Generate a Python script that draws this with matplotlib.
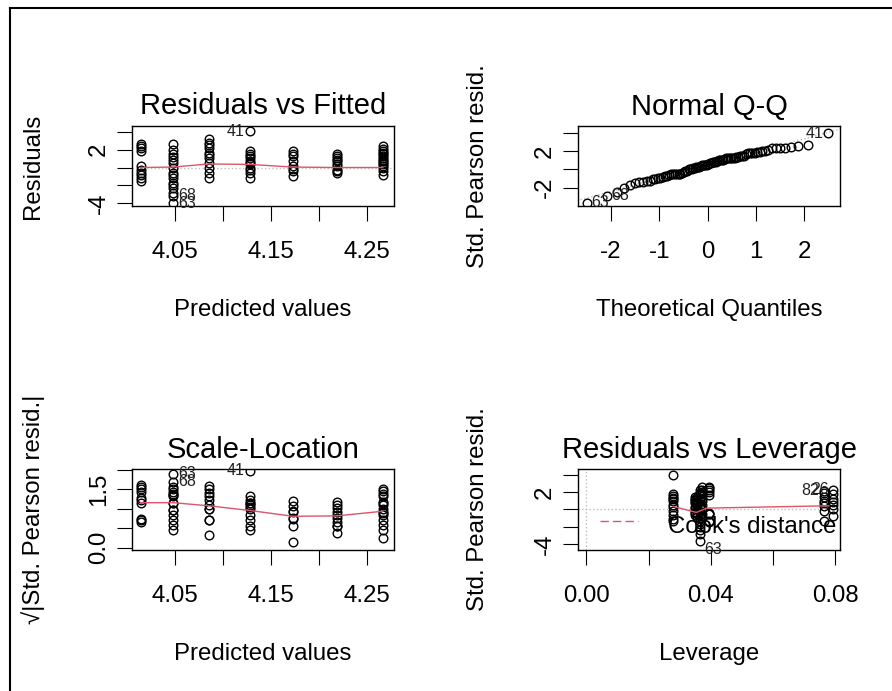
import matplotlib
matplotlib.use('Agg')
import matplotlib.pyplot as plt
import numpy as np
from statistics import NormalDist
from matplotlib.lines import Line2D

plt.rcParams['font.family'] = ['Liberation Sans', 'DejaVu Sans']

W, H = 892, 691

# ---------------- data ----------------
fitted = [4.014, 4.048, 4.085, 4.128, 4.173, 4.219, 4.267]
leverage_g1_g6 = [0.0395, 0.0365, 0.0372, 0.0279, 0.0355, 0.0348]
leverage_g7 = [0.0795, 0.0765, 0.0765, 0.0795, 0.0765, 0.0795, 0.0765, 0.0795,
               0.0765, 0.0795, 0.0765, 0.0795, 0.0765, 0.0795, 0.0765]

# residuals shown in "Residuals vs Fitted"
resid_g1 = [2.6, 2.4, 2.2, 1.85, 0.15, -0.23, -0.6, -0.9, -1.16, -1.55]
resid_g2 = [-4.05, -3.2, 2.6, 2.0, 1.47, 1.2, 0.9, 0.53, -0.04, -0.6, -0.9, -1.16, -1.73, -2.0, -2.3, -2.86]
resid_g3 = [3.16, 2.8, 2.5, 2.2, 1.66, 1.4, 1.1, 0.53, -0.04, -0.6, -1.16]
resid_g4 = [4.1, 1.85, 1.47, 1.3, 1.1, 0.71, 0.5, 0.34, -0.04, -0.3, -0.6, -1.16]
resid_g5 = [1.85, 1.5, 1.28, 0.71, 0.15, -0.2, -0.42, -0.98]
resid_g6 = [1.47, 1.3, 1.1, 0.9, 0.71, 0.4, 0.15, -0.23, -0.4, -0.6]
resid_g7 = [2.4, 2.1, 1.85, 1.6, 1.47, 1.3, 1.1, 0.9, 0.71, 0.5, 0.34, 0.15, -0.04, -0.42, -0.79]

# standardized Pearson residuals (Q-Q, Scale-Location, Leverage)
std_g1 = [2.65, 2.45, 2.3, 2.05, 1.65, -0.45, -0.5, -0.55, -1.5, -1.3]
std_g2 = [-3.65, -2.9, -2.45, -2.05, -1.75, -1.3, -0.95, -0.7, -0.35, 0.2, 0.5, 0.95, 1.3, 1.85, 1.9, 2.3]
std_g3 = [2.55, 2.3, 2.0, 1.75, 1.5, 1.2, 1.0, 0.5, 0.1, -0.5, -1.0]
std_g4 = [3.95, 1.75, 1.5, 1.3, 1.2, 1.0, 0.5, 0.3, -0.2, -0.7, -1.1, -1.35]
std_g5 = [1.45, 1.15, 0.85, 0.6, 0.3, 0.02, -0.55, -0.9]
std_g6 = [1.4, 1.2, 1.05, 0.85, 0.7, 0.3, 0.15, -0.3, -0.45, -0.6]
std_g7 = [2.3, 2.15, 1.95, 1.75, 1.4, 1.2, 1.0, 0.85, 0.7, 0.5, 0.35, 0.06, -0.2, -0.8, -1.35]

# smoothers (red lines)
smooth_fit_resid = [0.0, 0.05, 0.4, 0.35, 0.05, 0.0, 0.0]
smooth_fit_scale = [1.16, 1.16, 1.08, 0.96, 0.81, 0.82, 0.94]
smooth_lev_x = [0.0279, 0.0354, 0.0387, 0.0780]
smooth_lev_y = [0.35, -0.35, 0.15, 0.42]

# labelled observations: id -> (group, position in group)
labels_main = {'41': (3, 0), '63': (1, 0), '68': (1, 1)}
labels_lev = {'63': (1, 0), '82': (6, 1), '26': (6, 0)}

titles = ['Residuals vs Fitted', 'Normal Q-Q', 'Scale-Location', 'Residuals vs Leverage']

resid_groups = [resid_g1, resid_g2, resid_g3, resid_g4, resid_g5, resid_g6, resid_g7]
std_groups = [std_g1, std_g2, std_g3, std_g4, std_g5, std_g6, std_g7]
lev_groups = [[lv] * len(g) for lv, g in zip(leverage_g1_g6, std_groups[:6])] + [leverage_g7]

# ---------------- style ----------------
RED = '#DF536B'
GRAY = '#BEBEBE'
FS_TICK = 17.3
FS_TITLE = 21
FS_ID = 11.5

fig = plt.figure(figsize=(W / 100, H / 100), dpi=100)


def fx(px):
    return px / W


def fy(py):
    return 1 - py / H


def make_ax(l, t, r, b):
    ax = fig.add_axes([fx(l), fy(b), (r - l) / W, (b - t) / H])
    for s in ax.spines.values():
        s.set_linewidth(1.0)
        s.set_color('black')
    ax.tick_params(direction='out', length=10.8, width=0.8, labelsize=FS_TICK,
                   colors='black')
    ax.tick_params(axis='x', pad=14.5)
    ax.tick_params(axis='y', pad=5)
    return ax


def yticks(ax, vals, labs):
    ax.set_yticks(vals)
    ax.set_yticklabels(labs, rotation=90, va='center')


def xticks(ax, vals, labs):
    ax.set_xticks(vals)
    ax.set_xticklabels(labs)


def circles(ax, x, y):
    ax.plot(x, y, 'o', mfc='none', mec='black', ms=6.2, mew=1.0, ls='none', zorder=3)


def idlabel(ax, x, y, text, side, dy=0):
    if side == 'right':
        ax.annotate(text, (x, y), xytext=(3.5, dy), textcoords='offset points',
                    ha='left', va='center', fontsize=FS_ID, color='#222222',
                    annotation_clip=False, zorder=5)
    else:
        ax.annotate(text, (x, y), xytext=(-3.5, dy), textcoords='offset points',
                    ha='right', va='center', fontsize=FS_ID, color='#222222',
                    annotation_clip=False, zorder=5)


def title(cx, y, s):
    fig.text(fx(cx), fy(y), s, ha='center', va='baseline', fontsize=FS_TITLE)


def xlabel(cx, y, s):
    fig.text(fx(cx), fy(y), s, ha='center', va='baseline', fontsize=FS_TICK)


def ylabel(x, cy, s):
    fig.text(fx(x), fy(cy), s, ha='center', va='center', rotation=90, fontsize=FS_TICK)


side_of = {0: 'right', 1: 'right', 2: 'right', 3: 'left', 4: 'left', 5: 'left', 6: 'left'}

# ---------------- layout (pixels) ----------------
L1, R1 = 132, 394
L2, R2 = 578, 840
T1, B1 = 126, 206
T2, B2 = 469.3, 549.5

# ---------------- panel 1: Residuals vs Fitted ----------------
ax1 = make_ax(L1, T1, R1, B1)
ax1.set_xlim(4.0051, 4.2786)
ax1.set_ylim(-4.34, 4.68)
ax1.axhline(0, color=GRAY, ls=':', lw=1, zorder=1)
for f, g in zip(fitted, resid_groups):
    circles(ax1, [f] * len(g), g)
ax1.plot(fitted, smooth_fit_resid, color=RED, lw=1, zorder=4)
for lab, (gi, pi) in labels_main.items():
    idlabel(ax1, fitted[gi], resid_groups[gi][pi], lab, side_of[gi])
xticks(ax1, [4.05, 4.10, 4.15, 4.20, 4.25], ['4.05', '', '4.15', '', '4.25'])
yticks(ax1, [-4, -2, 0, 2, 4], ['-4', '', '', '2', ''])
title((L1 + R1) / 2, 114.5, titles[0])
xlabel((L1 + R1) / 2, 316, 'Predicted values')
ylabel(33, (T1 + B1) / 2, 'Residuals')

# ---------------- panel 2: Normal Q-Q ----------------
ax2 = make_ax(L2, T1, R2, B1)
ax2.set_xlim(-2.684, 2.746)
ax2.set_ylim(-4.0, 4.75)
all_std = []
tags = []
for gi, g in enumerate(std_groups):
    for pi, v in enumerate(g):
        all_std.append(v)
        tags.append((gi, pi))
all_std = np.array(all_std)
order = np.argsort(all_std)
n = len(all_std)
nd = NormalDist()
theo = np.array([nd.inv_cdf((i + 0.5) / n) for i in range(n)])
ys = all_std[order]
q1y, q3y = np.quantile(all_std, [0.25, 0.75])
q1x, q3x = nd.inv_cdf(0.25), nd.inv_cdf(0.75)
slope = (q3y - q1y) / (q3x - q1x)
icpt = q1y - slope * q1x
xx = np.array([-3, 3])
ax2.plot(xx, icpt + slope * xx, color=GRAY, ls=':', lw=1, zorder=2)
circles(ax2, theo, ys)
sorted_tags = [tags[o] for o in order]
for lab, key in labels_main.items():
    k = sorted_tags.index(key)
    idlabel(ax2, theo[k], ys[k], lab, 'left' if theo[k] > 0 else 'right')
xticks(ax2, [-2, -1, 0, 1, 2], ['-2', '-1', '0', '1', '2'])
yticks(ax2, [-2, 0, 2, 4], ['-2', '', '2', ''])
title((L2 + R2) / 2, 114.5, titles[1])
xlabel((L2 + R2) / 2, 316, 'Theoretical Quantiles')
ylabel(478, (T1 + B1) / 2, 'Std. Pearson resid.')

# ---------------- panel 3: Scale-Location ----------------
ax3 = make_ax(L1, T2, R1, B2)
ax3.set_xlim(4.0051, 4.2786)
ax3.set_ylim(-0.046, 2.02)
for f, g in zip(fitted, std_groups):
    circles(ax3, [f] * len(g), np.sqrt(np.abs(g)))
ax3.plot(fitted, smooth_fit_scale, color=RED, lw=1, zorder=4)
for lab, (gi, pi) in labels_main.items():
    idlabel(ax3, fitted[gi], np.sqrt(abs(std_groups[gi][pi])), lab, side_of[gi])
xticks(ax3, [4.05, 4.10, 4.15, 4.20, 4.25], ['4.05', '', '4.15', '', '4.25'])
yticks(ax3, [0, 0.5, 1.0, 1.5, 2.0], ['0.0', '', '', '1.5', ''])
title((L1 + R1) / 2, 457.5, titles[2])
xlabel((L1 + R1) / 2, 660, 'Predicted values')
ylabel(33, (T2 + B2) / 2, '\u221a|Std. Pearson resid.|')

# ---------------- panel 4: Residuals vs Leverage ----------------
ax4 = make_ax(L2, T2, R2, B2)
ax4.set_xlim(-0.0027, 0.0816)
ax4.set_ylim(-4.66, 4.66)
ax4.axhline(0, color=GRAY, ls=':', lw=1, zorder=1)
ax4.axvline(0, color=GRAY, ls=':', lw=1, zorder=1)
for lv, g in zip(lev_groups, std_groups):
    circles(ax4, lv, g)
ax4.plot(smooth_lev_x, smooth_lev_y, color=RED, lw=1, zorder=4)
for lab, (gi, pi) in labels_lev.items():
    lvx = lev_groups[gi][pi]
    idlabel(ax4, lvx, std_groups[gi][pi], lab,
            'left' if lvx > 0.05 else 'right', dy=(-6 if lab == '63' else 0))
xticks(ax4, [0.0, 0.02, 0.04, 0.06, 0.08], ['0.00', '', '0.04', '', '0.08'])
yticks(ax4, [-4, -2, 0, 2, 4], ['-4', '', '', '2', ''])
# legend (bottom-left, no box)
ax4.plot([(600 - L2) / (R2 - L2), (638 - L2) / (R2 - L2)],
         [(B2 - 521) / (B2 - T2)] * 2, transform=ax4.transAxes,
         color=RED, lw=1, dashes=(6, 3), zorder=6, clip_on=False)
ax4.text((668 - L2) / (R2 - L2), (B2 - 533) / (B2 - T2), "Cook's distance",
         transform=ax4.transAxes, fontsize=FS_TICK, ha='left', va='baseline', zorder=6)
title((L2 + R2) / 2, 457.5, titles[3])
xlabel((L2 + R2) / 2, 660, 'Leverage')
ylabel(478, (T2 + B2) / 2, 'Std. Pearson resid.')

# screenshot frame
fig.add_artist(Line2D([fx(10), fx(10)], [0, fy(7.5)], transform=fig.transFigure,
                      color='black', lw=1.5))
fig.add_artist(Line2D([fx(10), 1], [fy(7.5), fy(7.5)], transform=fig.transFigure,
                      color='black', lw=1.5))

fig.savefig('out.png', dpi=100)
